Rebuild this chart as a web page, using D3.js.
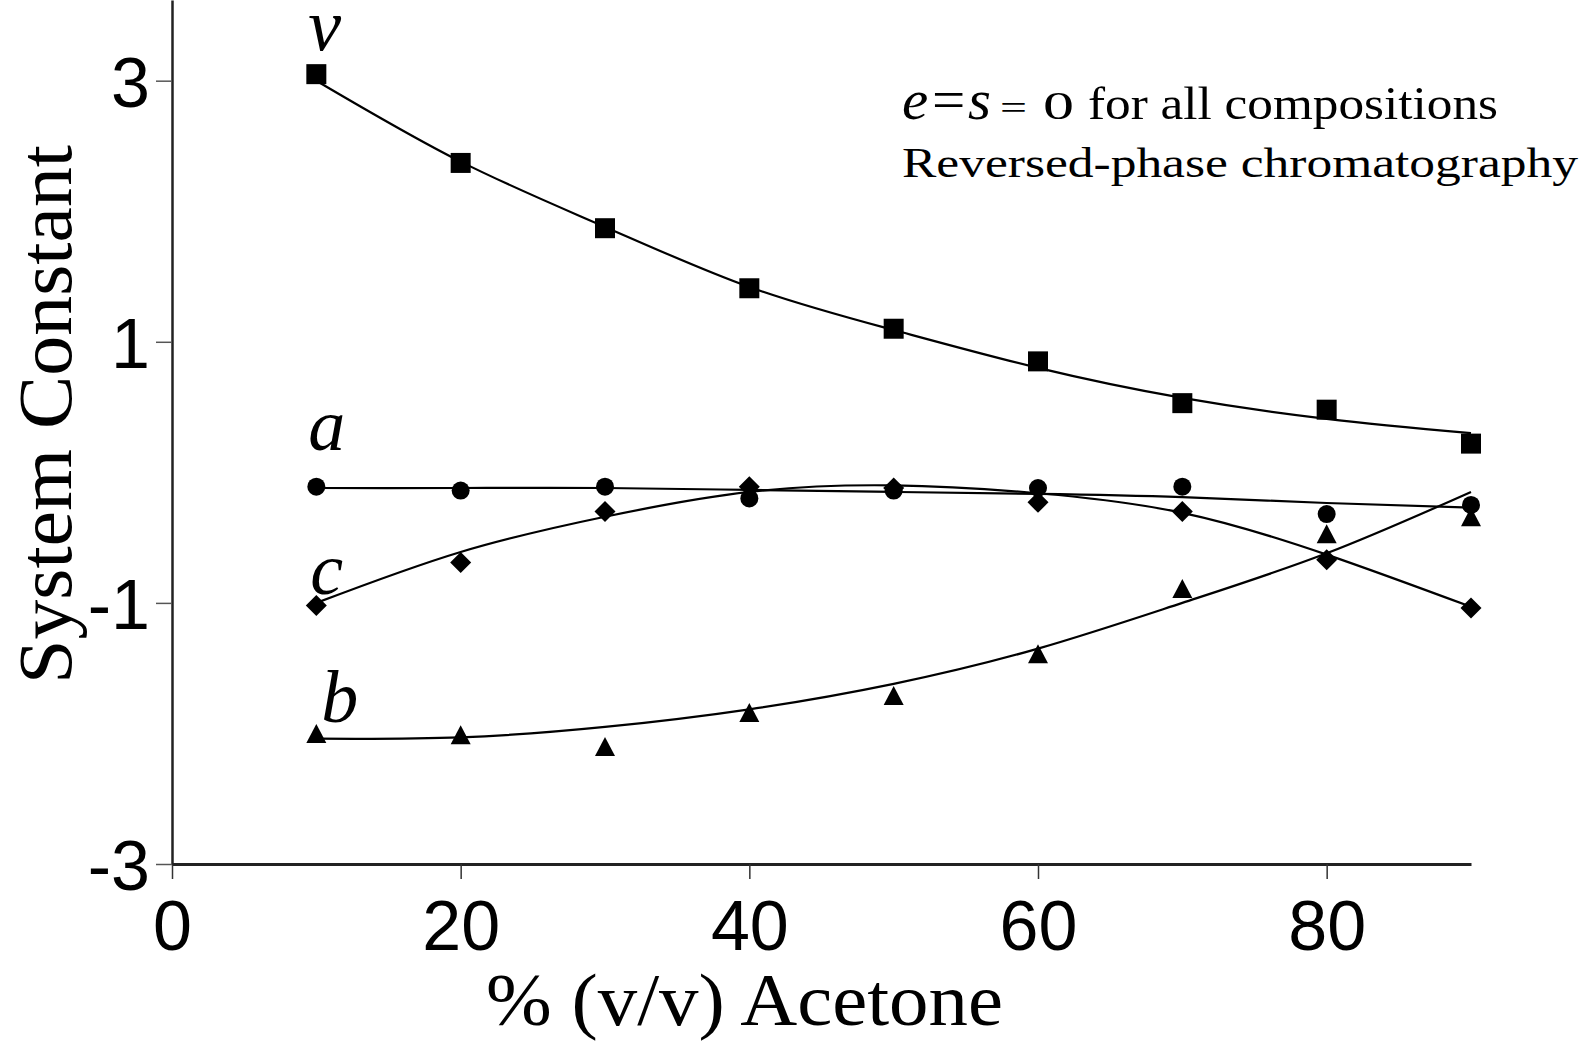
<!DOCTYPE html>
<html>
<head>
<meta charset="utf-8">
<script src="https://cdn.jsdelivr.net/npm/d3@7"></script>
<style>
  html, body { margin: 0; padding: 0; background: #fff; }
  svg { display: block; }
</style>
</head>
<body>
<svg id="chart" width="1589" height="1041"></svg>
<script>
// % (v/v) acetone
const acetone = [10, 20, 30, 40, 50, 60, 70, 80, 90];

// measured system constants
const vPts = [3.05, 2.37, 1.87, 1.41, 1.10, 0.85, 0.53, 0.48, 0.22];
const aPts = [-0.11, -0.14, -0.11, -0.20, -0.14, -0.12, -0.11, -0.32, -0.25];
const cPts = [-1.02, -0.69, -0.30, -0.11, -0.12, -0.23, -0.30, -0.67, -1.04];
const bPts = [-2.00, -2.01, -2.10, -1.84, -1.71, -1.39, -0.89, -0.47, -0.34];

// fitted trend lines
const vFit = [3.00, 2.38, 1.88, 1.42, 1.09, 0.80, 0.57, 0.41, 0.30];
const aFit = [-0.12, -0.12, -0.12, -0.135, -0.15, -0.165, -0.19, -0.235, -0.27];
const cFit = [-1.00, -0.61, -0.34, -0.15, -0.10, -0.16, -0.31, -0.63, -1.03];
const bFit = [-2.04, -2.03, -1.95, -1.815, -1.62, -1.35, -1.00, -0.62, -0.15];

const xTicks = [0, 20, 40, 60, 80];
const yTicks = [-3, -1, 1, 3];

const svg = d3.select('#chart');

const x = d3.scaleLinear().domain([0, 90]).range([172, 1471]);
const y = d3.scaleLinear().domain([-3, 3.618]).range([864, 0]);

// custom marker shapes (centred on their box)
const square = { draw(ctx, s) { ctx.rect(-s, -s, 2 * s, 2 * s); } };
const circle = { draw(ctx, s) { ctx.moveTo(s, 0); ctx.arc(0, 0, s, 0, 2 * Math.PI); } };
const diamond = { draw(ctx, s) { ctx.moveTo(0, -s); ctx.lineTo(s, 0); ctx.lineTo(0, s); ctx.lineTo(-s, 0); ctx.closePath(); } };
const triangle = { draw(ctx, s) { ctx.moveTo(0, -s * 0.95); ctx.lineTo(s, s * 0.95); ctx.lineTo(-s, s * 0.95); ctx.closePath(); } };

const series = [
  { name: 'v', pts: vPts, fit: vFit, shape: square, size: 10, dx: -8, dy: -24 },
  { name: 'a', pts: aPts, fit: aFit, shape: circle, size: 9, dx: -8, dy: -37 },
  { name: 'c', pts: cPts, fit: cFit, shape: diamond, size: 10.5, dx: -6, dy: -12 },
  { name: 'b', pts: bPts, fit: bFit, shape: triangle, size: 10, dx: 5, dy: -11 }
];

// axes
const xAxis = svg.append('g')
  .attr('transform', `translate(0,${y(-3)})`)
  .call(d3.axisBottom(x).tickValues(xTicks).tickSize(15).tickSizeOuter(0).tickPadding(21).tickFormat(d => String(d)));
xAxis.select('.domain').attr('stroke', '#222').attr('stroke-width', 3);
xAxis.selectAll('.tick line').attr('stroke', '#333').attr('stroke-width', 1.5);
xAxis.selectAll('text')
  .style('font-family', '"Liberation Sans", Arial, sans-serif')
  .style('font-size', '70px')
  .attr('fill', '#000');

const yAxis = svg.append('g')
  .attr('transform', `translate(${x(0)},0)`)
  .call(d3.axisLeft(y).tickValues(yTicks).tickSize(16).tickSizeOuter(0).tickPadding(6).tickFormat(d => String(d)));
yAxis.select('.domain').attr('stroke', '#222').attr('stroke-width', 2.5);
yAxis.selectAll('.tick line').attr('stroke', '#555').attr('stroke-width', 1.5);
yAxis.selectAll('text')
  .attr('dy', '0.37em')
  .style('font-family', '"Liberation Sans", Arial, sans-serif')
  .style('font-size', '70px')
  .attr('fill', '#000');

// fit curves
const line = d3.line()
  .x((d, i) => x(acetone[i]))
  .y(d => y(d))
  .curve(d3.curveNatural);

svg.append('g').selectAll('path.fit')
  .data(series)
  .join('path')
  .attr('class', 'fit')
  .attr('d', s => line(s.fit))
  .attr('fill', 'none')
  .attr('stroke', '#000')
  .attr('stroke-width', 2.2);

// markers
series.forEach(s => {
  const sym = d3.symbol().type(s.shape).size(s.size);
  svg.append('g').selectAll('path')
    .data(s.pts)
    .join('path')
    .attr('transform', (d, i) => `translate(${x(acetone[i])},${y(d)})`)
    .attr('d', sym)
    .attr('fill', '#000');
});

// series labels
svg.append('g').selectAll('text')
  .data(series)
  .join('text')
  .attr('x', s => x(acetone[0]) + s.dx)
  .attr('y', s => y(s.pts[0]) + s.dy)
  .style('font-family', '"Liberation Serif", "Times New Roman", serif')
  .style('font-style', 'italic')
  .style('font-size', '74px')
  .text(s => s.name);

// axis titles
svg.append('text')
  .attr('x', 486).attr('y', 1025)
  .attr('textLength', 517).attr('lengthAdjust', 'spacingAndGlyphs')
  .style('font-family', '"Liberation Serif", "Times New Roman", serif')
  .style('font-size', '75px')
  .text('% (v/v) Acetone');

svg.append('text')
  .attr('transform', 'translate(71,684) rotate(-90)')
  .attr('textLength', 539).attr('lengthAdjust', 'spacingAndGlyphs')
  .style('font-family', '"Liberation Serif", "Times New Roman", serif')
  .style('font-size', '77px')
  .text('System Constant');

// annotation
const serif = '"Liberation Serif", "Times New Roman", serif';
const note = svg.append('g');
note.append('text')
  .attr('x', 902).attr('y', 119)
  .attr('textLength', 89).attr('lengthAdjust', 'spacingAndGlyphs')
  .style('font-family', serif).style('font-style', 'italic').style('font-size', '58px')
  .text('e=s');
note.append('text')
  .attr('x', 1000).attr('y', 119)
  .attr('textLength', 27).attr('lengthAdjust', 'spacingAndGlyphs')
  .style('font-family', serif).style('font-size', '34px')
  .text('=');
note.append('text')
  .attr('x', 1043).attr('y', 119)
  .attr('textLength', 31).attr('lengthAdjust', 'spacingAndGlyphs')
  .style('font-family', serif).style('font-size', '40px')
  .text('0');
note.append('text')
  .attr('x', 1088).attr('y', 119)
  .attr('textLength', 410).attr('lengthAdjust', 'spacingAndGlyphs')
  .style('font-family', serif).style('font-size', '46px')
  .text('for all compositions');
note.append('text')
  .attr('x', 902).attr('y', 177)
  .attr('textLength', 676).attr('lengthAdjust', 'spacingAndGlyphs')
  .style('font-family', serif).style('font-size', '43px')
  .text('Reversed-phase chromatography');
</script>
</body>
</html>
